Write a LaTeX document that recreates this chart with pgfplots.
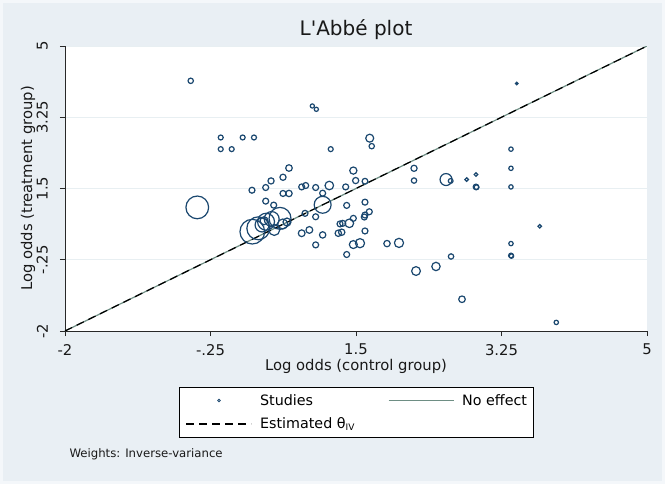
\documentclass[border=0pt]{standalone}
\usepackage{pgfplots}
\usepackage{pgfplotstable}
\pgfplotsset{compat=1.18}
\usepackage{fontspec}
\setmainfont{DejaVu Sans}
\definecolor{bgc}{RGB}{233,239,244}
\definecolor{bgedge}{RGB}{244,247,250}
\definecolor{navyS}{RGB}{26,71,111}
\definecolor{tealS}{RGB}{110,142,132}
\definecolor{gridc}{RGB}{232,239,242}
\definecolor{axc}{RGB}{40,40,40}
\pgfplotsset{
  longline/.style={legend image code/.code={\draw[#1] (0bp,0bp) -- (65bp,0bp);}},
  dotleg/.style={legend image code/.code={\path[draw=none] (0bp,0bp) -- (65bp,0bp); \draw[navyS, line width=0.8bp, fill=none] (32.5bp,0bp) circle (1.3bp);}},
}
\pgfplotstableread{
x y r
-0.488 4.145 2.7
0.975 3.527 2.1
1.023 3.445 2.1
-0.127 2.753 2.5
0.137 2.753 2.5
0.273 2.753 2.5
-0.127 2.467 2.5
0.005 2.467 2.5
1.196 2.467 2.5
0.694 2.003 3.3
0.622 1.776 3.1
0.478 1.686 3.1
1.468 1.940 3.6
1.496 1.695 3.1
3.433 4.079 1.3
1.665 2.736 4.0
1.689 2.540 2.7
3.364 2.467 2.2
2.198 1.996 3.1
3.364 1.996 2.2
1.608 1.678 2.9
1.376 1.539 3.0
2.198 1.695 2.7
2.583 1.720 6.0
2.639 1.686 2.4
2.831 1.720 1.8
2.943 1.842 1.8
2.943 1.539 2.8
2.950 1.530 2.4
3.364 1.539 2.2
1.388 1.085 3.0
1.608 1.165 3.0
1.660 0.929 3.0
1.608 0.848 3.0
1.600 0.800 3.0
1.468 0.767 3.0
1.420 0.645 4.3
1.340 0.645 3.0
1.308 0.630 3.0
1.608 0.457 3.0
1.468 0.123 4.0
1.548 0.157 4.6
1.388 -0.121 3.0
1.873 0.147 3.2
2.017 0.164 4.6
2.643 -0.170 2.7
2.462 -0.415 4.2
2.222 -0.527 4.4
2.775 -1.220 3.3
3.364 0.147 2.2
3.364 -0.146 2.4
3.370 -0.160 2.2
3.710 0.572 1.8
3.909 -1.789 2.2
-0.409 1.036 11.4
0.249 1.458 3.0
0.414 1.524 3.0
0.414 1.190 3.0
0.510 1.092 3.0
0.622 1.378 3.0
0.694 1.378 3.2
0.847 1.539 3.0
0.895 1.573 3.0
1.015 1.524 3.0
1.179 1.573 4.3
1.099 1.100 8.5
1.099 1.385 3.0
0.887 0.890 3.0
1.015 0.806 3.0
1.287 0.401 3.2
1.328 0.426 3.2
0.847 0.401 3.4
0.939 0.482 3.4
1.099 0.360 3.2
1.015 0.115 3.0
0.253 0.440 12.4
0.325 0.523 11.5
0.418 0.684 8.5
0.486 0.750 7.5
0.586 0.767 11.0
0.370 0.604 7.0
0.517 0.482 5.5
0.618 0.628 5.0
0.394 0.709 4.0
0.670 0.677 4.0
}\studies
\begin{document}
\begin{tikzpicture}
\fill[bgedge] (-65bp,-153bp) rectangle (600bp,331bp);
\fill[bgc] (-62bp,-150bp) rectangle (597bp,328bp);
\begin{axis}[
  at={(0,0)}, anchor=south west,
  scale only axis, width=582bp, height=285bp,
  xmin=-2, xmax=5, ymin=-2, ymax=5,
  axis background/.style={fill=white},
  axis lines*=left,
  axis line style={axc, line width=0.9bp},
  tick align=outside, major tick length=5bp,
  tick style={axc, line width=0.9bp},
  xtick={-2,-0.25,1.5,3.25,5}, xticklabels={-2,-.25,1.5,3.25,5},
  ytick={-2,-0.25,1.5,3.25,5}, yticklabels={-2,-.25,1.5,3.25,5},
  minor tick num=0,
  ymajorgrids, grid style={gridc, line width=1bp},
  tick label style={font=\fontsize{14.8bp}{16bp}\selectfont, text=black!90},
  xticklabel style={anchor=north, inner sep=0pt},
  xticklabel shift=8bp,
  yticklabel style={rotate=90, anchor=south, inner sep=0pt},
  yticklabel shift=12bp,
  xlabel={Log odds (control group)},
  ylabel={Log odds (treatment group)},
  every axis x label/.style={at={([yshift=-39bp]axis description cs:0.5,0)}, anchor=base, font=\fontsize{14.8bp}{16bp}\selectfont, text=black!90},
  every axis y label/.style={at={([xshift=-37bp]axis description cs:0,0.5)}, rotate=90, anchor=center, font=\fontsize{14.8bp}{16bp}\selectfont, text=black!90},
  legend columns=2,
  legend cell align=left,
  legend style={
    at={(0.19588,-0.19649)}, anchor=north west,
    draw=black, line width=0.8bp, fill=white,
    inner xsep=6.5bp, inner ysep=7bp,
    font=\fontsize{14.3bp}{16bp}\selectfont,
    nodes={inner sep=0pt},
    /tikz/every odd column/.append style={column sep=8bp},
    /tikz/every even column/.append style={column sep=33bp},
    /tikz/row sep=11bp,
  },
]
\addplot[
  scatter, only marks, mark=o,
  point meta=\thisrow{r},
  scatter/use mapped color={draw=navyS, fill=none},
  mark options={line width=1.2bp},
  visualization depends on={\thisrow{r} \as \rad},
  scatter/@pre marker code/.append style={/tikz/mark size=\rad},
  dotleg,
] table[x=x, y=y] {\studies};
\addlegendentry{\rule[-3.5bp]{0pt}{14bp}Studies}
\addplot[tealS, line width=1.2bp, longline]
  coordinates {(-2,-2) (5,5)};
\addlegendentry{\rule[-3.5bp]{0pt}{14bp}No effect}
\addplot[black, line width=1.2bp, dash pattern=on 8bp off 5bp, longline]
  coordinates {(-2,-2) (5,5)};
\addlegendentry{\rule[-3.5bp]{0pt}{14bp}Estimated θ\textsubscript{\fontsize{9bp}{10bp}\selectfont IV}}
\end{axis}
\node[font=\fontsize{20bp}{24bp}\selectfont, text=black!90] at (291bp,301bp) {L\textquotesingle Abbé plot};
\node[anchor=west, font=\fontsize{11.7bp}{14bp}\selectfont, text=black!90] at (1bp,-123bp) {Weights: Inverse-variance};
\pgfresetboundingbox
\path (-65bp,-153bp) rectangle (600bp,331bp);
\end{tikzpicture}
\end{document}
